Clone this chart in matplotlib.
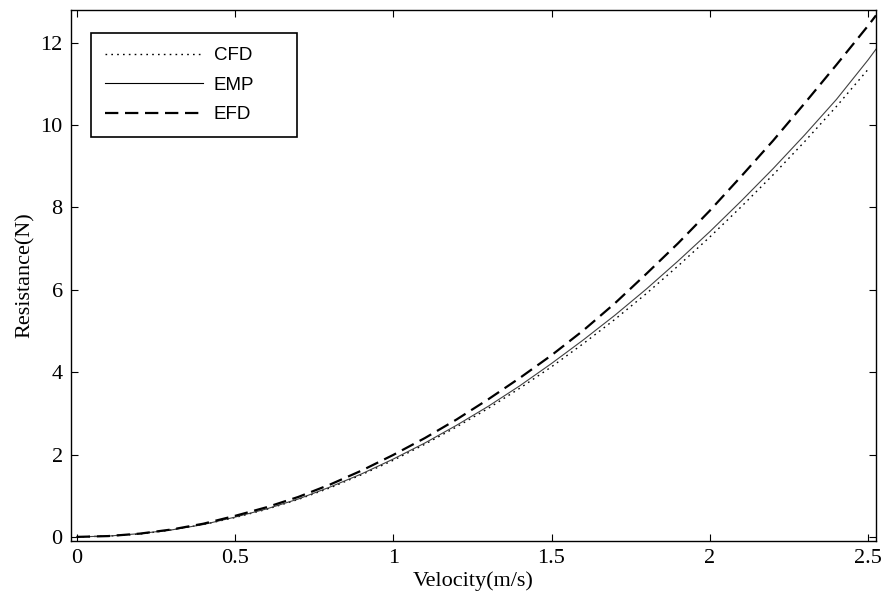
import matplotlib.pyplot as plt
from matplotlib.patches import Rectangle

# velocity points (m/s)
v = [0, 0.1, 0.2, 0.3, 0.4, 0.5, 0.6, 0.7, 0.8, 0.9, 1.0, 1.1, 1.2,
     1.3, 1.4, 1.5, 1.6, 1.7, 1.8, 1.9, 2.0, 2.1, 2.2, 2.3, 2.4, 2.5]
v_ext = v + [2.525]

cfd = [0, 0.02, 0.07, 0.17, 0.30, 0.47, 0.67, 0.91, 1.19, 1.51, 1.86,
       2.25, 2.67, 3.12, 3.61, 4.13, 4.69, 5.28, 5.91, 6.58, 7.28,
       8.02, 8.79, 9.60, 10.45, 11.35]
emp = [0, 0.02, 0.08, 0.17, 0.30, 0.48, 0.68, 0.92, 1.21, 1.53, 1.89,
       2.28, 2.71, 3.17, 3.67, 4.21, 4.78, 5.38, 6.02, 6.70, 7.41,
       8.16, 8.94, 9.76, 10.62, 11.58, 11.84]
efd = [0, 0.02, 0.08, 0.18, 0.32, 0.51, 0.72, 0.97, 1.27, 1.61, 1.99,
       2.40, 2.85, 3.34, 3.86, 4.41, 5.01, 5.67, 6.39, 7.13, 7.92,
       8.76, 9.62, 10.53, 11.46, 12.41, 12.66]

xticks = [0, 0.5, 1, 1.5, 2, 2.5]
xtick_labels = ['0', '0.5', '1', '1.5', '2', '2.5']
yticks = [0, 2, 4, 6, 8, 10, 12]

serif = 'Liberation Serif'

fig = plt.figure(figsize=(8.82, 6.01), dpi=100)
ax = fig.add_axes([0.0805, 0.0998, 0.9127, 0.8835])

ax.plot(v, cfd, color='black', lw=1.0, linestyle=(0, (1.2, 3.0)), label='CFD')
ax.plot(v_ext, emp, color='#404040', lw=0.8, label='EMP')
ax.plot(v_ext, efd, color='black', lw=1.6, linestyle=(0, (6, 3)), label='EFD')

ax.set_xlim(-0.018, 2.525)
ax.set_ylim(-0.1, 12.79)
ax.set_xticks(xticks)
ax.set_xticklabels(xtick_labels)
ax.set_yticks(yticks)
ax.tick_params(direction='in', length=5, width=0.8, top=True, right=True,
               labelsize=16, pad=6)
for lab in ax.get_xticklabels() + ax.get_yticklabels():
    lab.set_family(serif)
for s in ax.spines.values():
    s.set_linewidth(1.0)
    s.set_color('black')

ax.set_xlabel('Velocity(m/s)', fontsize=16, family=serif, labelpad=2)
ax.set_ylabel('Resistance(N)', fontsize=16, family=serif, labelpad=4)

# legend box drawn separately so it can be wider than its content
box = Rectangle((0.0248, 0.7608), 0.2559, 0.1959, transform=ax.transAxes,
                facecolor='white', edgecolor='black', lw=1.2, zorder=4)
ax.add_patch(box)
leg = ax.legend(loc='upper left', bbox_to_anchor=(0.0248, 0.9567),
                prop={'family': 'Liberation Sans', 'size': 13.5},
                handlelength=5.2, handletextpad=0.6, borderpad=0.75,
                labelspacing=0.66, frameon=False, borderaxespad=0)
leg.set_zorder(5)
for line in leg.get_lines():
    line.set_color('black')

fig.savefig('out.png', dpi=100)
